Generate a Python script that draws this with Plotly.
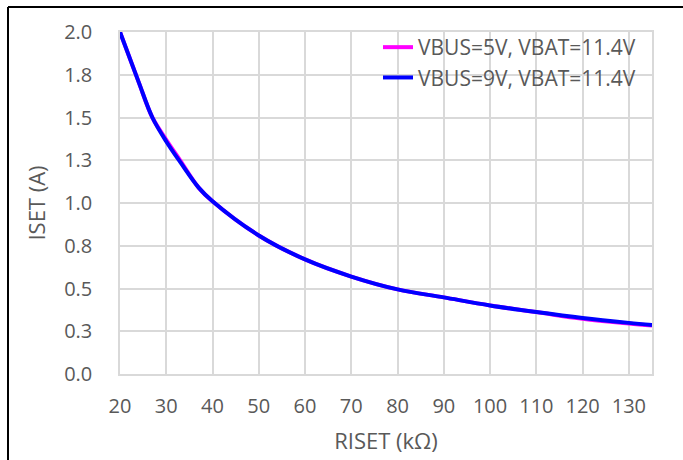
import plotly.graph_objects as go

# Data
riset_kohm = [20, 24, 27, 30, 33, 37, 40, 50, 60, 70, 80, 90, 100, 110, 120, 130, 135]
iset_vbus5 = [2.00, 1.71, 1.50, 1.37, 1.25, 1.09, 1.01, 0.81, 0.67, 0.57, 0.495, 0.448, 0.401, 0.362, 0.323, 0.295, 0.283]
iset_vbus9 = [2.00, 1.71, 1.50, 1.36, 1.24, 1.09, 1.01, 0.81, 0.67, 0.57, 0.495, 0.448, 0.401, 0.362, 0.327, 0.299, 0.287]
series_names = ["VBUS=5V, VBAT=11.4V", "VBUS=9V, VBAT=11.4V"]
x_ticks = [20, 30, 40, 50, 60, 70, 80, 90, 100, 110, 120, 130]
y_ticks = [0.0, 0.25, 0.5, 0.75, 1.0, 1.25, 1.5, 1.75, 2.0]
y_tick_text = ["0.0", "0.3", "0.5", "0.8", "1.0", "1.3", "1.5", "1.8", "2.0"]

FONT = "Open Sans"
TXT = "#595959"
GRID = "#d9d9d9"

fig = go.Figure()
fig.add_trace(go.Scatter(x=riset_kohm, y=iset_vbus5, mode="lines", name=series_names[0],
                         legendgroup="a",
                         line=dict(color="#ff00ff", width=4, shape="spline", smoothing=1.0)))
fig.add_trace(go.Scatter(x=riset_kohm, y=iset_vbus9, mode="lines", name=series_names[1],
                         legendgroup="b",
                         line=dict(color="#0000ff", width=4, shape="spline", smoothing=1.0)))

W, H = 683, 460
ml, mr, mt, mb = 120, 31, 32, 86
pw = W - ml - mr
ph = H - mt - mb

def px_to_paper_x(px):
    return (px - ml) / pw

def px_to_paper_y(py):
    return 1 - (py - mt) / ph

fig.update_layout(
    width=W, height=H,
    margin=dict(l=ml, r=mr, t=mt, b=mb),
    paper_bgcolor="white", plot_bgcolor="white",
    font=dict(family=FONT, size=20, color=TXT),
    showlegend=True,
    legend=dict(
        x=px_to_paper_x(378), y=px_to_paper_y(27), xanchor="left", yanchor="top",
        bgcolor="rgba(0,0,0,0)", borderwidth=0,
        font=dict(family=FONT, size=21, color=TXT),
        traceorder="grouped", tracegroupgap=0,
    ),
    xaxis=dict(
        range=[20, 135], tickmode="array", tickvals=x_ticks,
        showgrid=True, gridcolor=GRID, gridwidth=1.5,
        showline=True, linecolor=GRID, linewidth=1.5, mirror=True,
        zeroline=False, ticks="", ticklabelstandoff=13, automargin=False,
        tickfont=dict(family=FONT, size=20, color=TXT),
        title=dict(text="RISET (kΩ)", font=dict(family=FONT, size=22, color=TXT), standoff=16),
    ),
    yaxis=dict(
        range=[0, 2.0], tickmode="array", tickvals=y_ticks, ticktext=y_tick_text,
        showgrid=True, gridcolor=GRID, gridwidth=1.5,
        showline=True, linecolor=GRID, linewidth=1.5, mirror=True,
        zeroline=False, ticks="", ticklabelstandoff=22, automargin=False,
        tickfont=dict(family=FONT, size=20, color=TXT),
        title=dict(text="ISET (A)", font=dict(family=FONT, size=22, color=TXT), standoff=12),
    ),
    shapes=[
        dict(type="line", xref="paper", yref="paper",
             x0=px_to_paper_x(8), x1=px_to_paper_x(690),
             y0=px_to_paper_y(7), y1=px_to_paper_y(7),
             line=dict(color="black", width=2)),
        dict(type="line", xref="paper", yref="paper",
             x0=px_to_paper_x(8), x1=px_to_paper_x(8),
             y0=px_to_paper_y(7), y1=px_to_paper_y(470),
             line=dict(color="black", width=2)),
    ],
)

fig.write_html("out.html")
